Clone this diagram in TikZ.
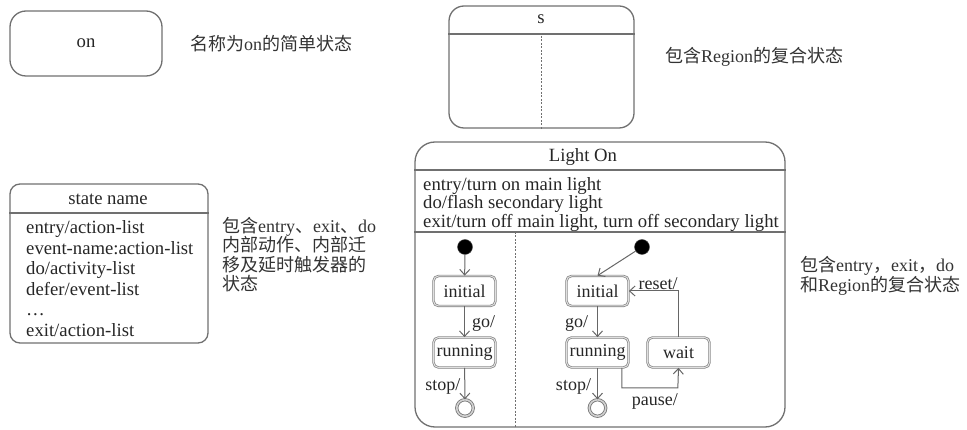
\documentclass[tikz,border=0pt]{standalone}
\usepackage{fontspec}
\setmainfont{Liberation Serif}
\newfontfamily\cjk{Noto Sans CJK SC}
\usetikzlibrary{arrows.meta,calc}
\definecolor{ink}{HTML}{262626}
\definecolor{edge}{HTML}{707070}
\begin{document}
\begin{tikzpicture}[x=1pt,y=-1pt,
  every node/.style={text=ink},
  bigbox/.style={draw=edge, line width=1.3pt, rectangle, inner sep=0pt},
  sep/.style={draw=edge, line width=1.3pt},
  dsep/.style={draw=edge, line width=1pt, dash pattern=on 2pt off 1.5pt},
  txt/.style={inner sep=0pt, font=\fontsize{18.7}{20.5}\selectfont},
  lbl/.style={inner sep=0pt, anchor=west, align=left, text=black!80, font=\fontsize{18}{19.5}\selectfont},
  smallst/.style={rectangle, rounded corners=5pt, draw=black!50, double=black!12, double distance=1pt,
     line width=0.7pt, minimum width=62pt, minimum height=30pt, inner sep=0pt,
     font=\fontsize{18}{20}\selectfont},
  startdot/.style={circle, fill=black, draw=black!70, minimum size=15pt, inner sep=0pt},
  finst/.style={circle, draw=black!55, double=black!18, double distance=1.6pt, line width=0.8pt,
     minimum size=16.5pt, inner sep=0pt},
  arr/.style={draw=black!60, line width=1pt, -{Straight Barb[length=5.5pt,width=10pt]}},
  tlbl/.style={inner sep=0pt, font=\fontsize{18}{20}\selectfont}
]
\useasboundingbox (0,0) rectangle (967,430);

% simple state
\node[bigbox, rounded corners=16pt, minimum width=152pt, minimum height=65pt, font=\fontsize{18.7}{20}\selectfont] (on) at (86,43.5) {on};
\node[lbl] (lon) at (190,44) {{\cjk 名称为}on{\cjk 的简单状态}};

% composite with regions
\node[bigbox, rounded corners=15pt, minimum width=185pt, minimum height=122pt] (s) at (541.5,67) {};
\coordinate (sh) at (0,34);
\draw[sep] (s.west |- sh) -- (s.east |- sh);
\node[txt] (sname) at (541,19) {s};
\coordinate (sd) at (541,36);
\draw[dsep] (sd) -- (sd |- s.south);
\node[lbl] (ls) at (665,57) {{\cjk 包含}Region{\cjk 的复合状态}};

% state with internal activities
\node[bigbox, rounded corners=10pt, minimum width=198pt, minimum height=159pt] (sn) at (109,263.5) {};
\coordinate (snh) at (0,213);
\draw[sep] (sn.west |- snh) -- (sn.east |- snh);
\node[txt] (snname) at (108,199) {state name};
\node[txt, anchor=north west, align=left] (snbody) at (26,220.5) {entry/action-list\\event-name:action-list\\do/activity-list\\defer/event-list\\\dots\\exit/action-list};
\node[lbl] (lsn) at (222,254.5) {{\cjk 包含}entry{\cjk 、}exit{\cjk 、}do\\{\cjk 内部动作、内部迁}\\{\cjk 移及延时触发器的}\\{\cjk 状态}};

% Light On composite
\node[bigbox, rounded corners=20pt, minimum width=370pt, minimum height=285pt] (lo) at (600,284.5) {};
\coordinate (loh) at (0,170);
\coordinate (lob) at (0,232);
\draw[sep] (lo.west |- loh) -- (lo.east |- loh);
\draw[sep] (lo.west |- lob) -- (lo.east |- lob);
\node[txt] (loname) at (583,157) {Light On};
\node[txt, anchor=north west, align=left, font=\fontsize{18.7}{18.7}\selectfont] (lobody) at (423,177) {entry/turn on main light\\do/flash secondary light\\exit/turn off main light, turn off secondary light};
\coordinate (lod) at (515,232);
\draw[dsep] (lod) -- (lod |- lo.south);
\node[lbl] (llo) at (800,276) {{\cjk 包含}entry{\cjk ，}exit{\cjk ，}do\\{\cjk 和}Region{\cjk 的复合状态}};

% left region
\node[startdot] (ld) at (465,247) {};
\node[smallst] (li) at (464.5,291) {initial};
\node[smallst] (lr) at (464.5,352.5) {running};
\node[finst] (lf) at (465,408) {};
\draw[arr] (ld) -- (li);
\draw[arr] (li) -- node[tlbl, right=7pt, pos=0.55] (lgo) {go/} (lr);
\draw[arr] (lr) -- node[tlbl, left=4pt, pos=0.6] (lstop) {stop/} (lf);

% right region
\node[startdot] (rd) at (642,247) {};
\node[smallst] (ri) at (597.5,291) {initial};
\node[smallst] (rr) at (597.5,352.5) {running};
\node[smallst] (rw) at (678.5,352.5) {wait};
\node[finst] (rf) at (597.5,408) {};
\draw[arr] (rd) -- (ri.north);
\draw[arr] (ri) -- node[tlbl, left=9pt, pos=0.55] (rgo) {go/} (rr);
\draw[arr] (rr) -- node[tlbl, left=6pt, pos=0.6] (rstop) {stop/} (rf);
\draw[arr] (rw.north) |- node[tlbl, pos=0.705, above=1pt] (rreset) {reset/} (ri.east);
\coordinate (pz) at ($(rr.south east)+(-7,0)$);
\draw[arr] (pz) |- ++(56,20) node[pos=0.795, below=5pt, tlbl] (rpause) {pause/} -- (rw.south);
\end{tikzpicture}
\end{document}
